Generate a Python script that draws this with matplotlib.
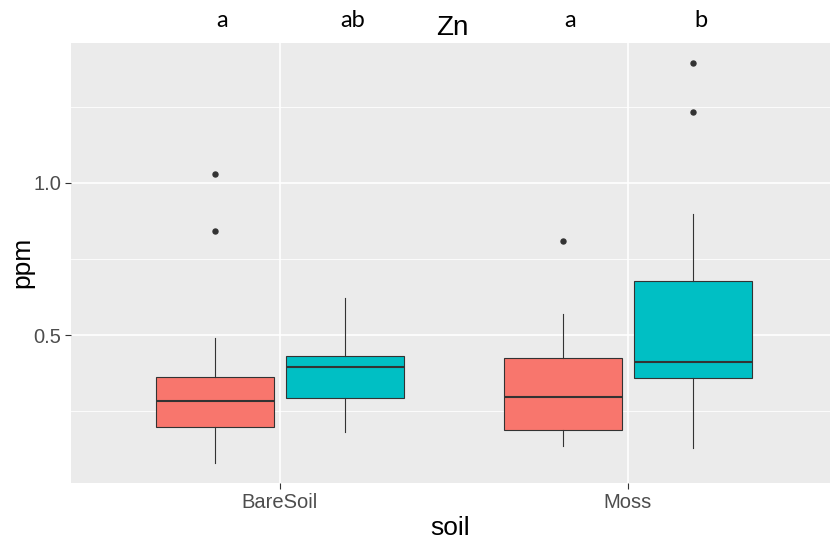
import matplotlib
matplotlib.use("Agg")
import matplotlib.pyplot as plt
import matplotlib.transforms as mtransforms

plt.rcParams['font.family'] = ['Liberation Sans', 'DejaVu Sans']

# data
soil = ["BareSoil", "Moss"]
fill_colors = ["#F8766D", "#00BFC4"]
letters = ["a", "ab", "a", "b"]

# per box: BareSoil red, BareSoil teal, Moss red, Moss teal
whislo = [0.079, 0.181, 0.135, 0.128]
q1 = [0.197, 0.293, 0.188, 0.359]
med = [0.283, 0.395, 0.296, 0.411]
q3 = [0.362, 0.431, 0.424, 0.678]
whishi = [0.490, 0.622, 0.569, 0.898]
fliers = [[0.842, 1.030], [], [0.809], [1.233, 1.395]]

fig = plt.figure(figsize=(8.30, 5.42), dpi=100)
ax = fig.add_axes([71 / 830, 1 - 483 / 542, (830 - 71) / 830, (483 - 43) / 542])
ax.set_facecolor("#EBEBEB")
for s in ax.spines.values():
    s.set_visible(False)

# grid like ggplot
for y in [0.25, 0.75, 1.25]:
    ax.axhline(y, color="white", lw=0.6, zorder=0)
for y in [0.5, 1.0]:
    ax.axhline(y, color="white", lw=1.2, zorder=0)
for x in [1, 2]:
    ax.axvline(x, color="white", lw=1.2, zorder=0)

dodge = 0.187
positions = []
stats = []
for i in range(4):
    g = i // 2
    positions.append(g + 1 + (-dodge if i % 2 == 0 else dodge))
    stats.append(dict(whislo=whislo[i], q1=q1[i], med=med[i], q3=q3[i],
                      whishi=whishi[i], fliers=fliers[i]))

bp = ax.bxp(stats, positions=positions, widths=0.34, patch_artist=True,
            showcaps=False, manage_ticks=False,
            whiskerprops=dict(color="#333333", lw=0.8),
            medianprops=dict(color="#333333", lw=1.5),
            boxprops=dict(edgecolor="#333333", lw=0.8),
            flierprops=dict(marker="o", markersize=3.6, markerfacecolor="#333333",
                            markeredgecolor="#333333"))
for i, patch in enumerate(bp["boxes"]):
    patch.set_facecolor(fill_colors[i % 2])
    patch.set_zorder(2)

ax.set_xlim(0.4, 0.4 + (830 - 71) / 348)
ax.set_ylim(0.0132, 1.4605)
ax.set_xticks([1, 2])
ax.set_xticklabels(soil)
ax.set_yticks([0.5, 1.0])
ax.set_yticklabels(["0.5", "1.0"])
ax.tick_params(colors="#333333", labelcolor="#4D4D4D", labelsize=14.5,
               length=4, width=0.8, pad=3)

ax.set_xlabel("soil", fontsize=19, color="black")
ax.xaxis.set_label_coords(450 / 830, 1 - 516 / 542, transform=fig.transFigure)
ax.set_ylabel("ppm", fontsize=19, color="black")
ax.yaxis.set_label_coords(34 / 830, 1 - 262 / 542, transform=fig.transFigure)

fig.text(452 / 830, 1 - 35 / 542, "Zn", fontsize=20, ha="center", va="baseline")

trans = mtransforms.blended_transform_factory(ax.transData, fig.transFigure)
for i, lab in enumerate(letters):
    ax.text(positions[i] + 0.022, 1 - 27 / 542, lab, transform=trans,
            ha="center", va="baseline", fontsize=17, family=["Lato", "DejaVu Sans"])

fig.savefig("out.png", dpi=100)
